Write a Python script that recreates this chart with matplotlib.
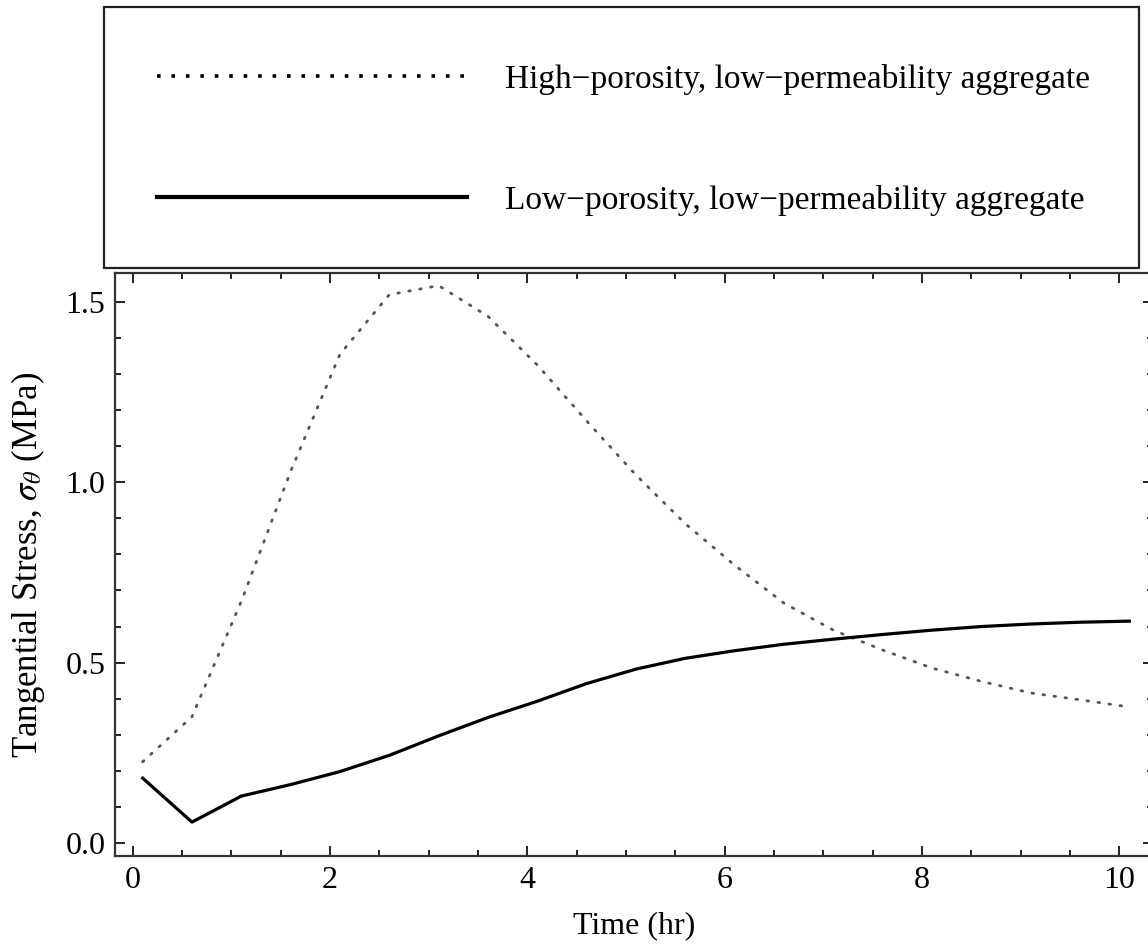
import matplotlib
matplotlib.use("Agg")
import matplotlib.pyplot as plt
from matplotlib.patches import Rectangle

# time (hr)
time_hr = [0.1, 0.6, 1.1, 1.6, 2.1, 2.6, 3.1, 3.6, 4.1, 4.6, 5.1,
           5.6, 6.1, 6.6, 7.1, 7.6, 8.1, 8.6, 9.1, 9.6, 10.1]

# tangential stress (MPa)
high_porosity = [0.225, 0.35, 0.67, 1.03, 1.355, 1.52, 1.545, 1.46, 1.325, 1.17, 1.02,
                 0.885, 0.77, 0.665, 0.59, 0.535, 0.485, 0.448, 0.416, 0.397, 0.377]
low_porosity = [0.18, 0.058, 0.13, 0.162, 0.198, 0.243, 0.297, 0.348, 0.393, 0.442, 0.482,
                0.512, 0.533, 0.551, 0.565, 0.578, 0.59, 0.6, 0.607, 0.612, 0.615]

labels = ["High\u2212porosity, low\u2212permeability aggregate",
          "Low\u2212porosity, low\u2212permeability aggregate"]

plt.rcParams['font.family'] = ['Liberation Serif', 'DejaVu Serif']
plt.rcParams['mathtext.fontset'] = 'stix'

W, H = 1148, 949
fig = plt.figure(figsize=(W / 100, H / 100), dpi=100)

ax = fig.add_axes([115 / W, 1 - 856 / H, (1153 - 115) / W, (856 - 273) / H])

l1, = ax.plot(time_hr, high_porosity, color='#555555', linewidth=2.0,
              linestyle=(0, (0.6, 3.4)), dash_capstyle='round')
l2, = ax.plot(time_hr, low_porosity, color='black', linewidth=2.3)

ax.set_xlim(-0.18, 10.34)
ax.set_ylim(-0.036, 1.58)
ax.set_xticks([0, 2, 4, 6, 8, 10])
ax.set_xticks([x * 0.5 for x in range(21)], minor=True)
ax.set_yticks([0.0, 0.5, 1.0, 1.5])
ax.set_yticks([y * 0.1 for y in range(16)], minor=True)
ax.set_yticklabels(['0.0', '0.5', '1.0', '1.5'])

ax.tick_params(which='both', direction='in', top=True, right=True,
               width=1.4, color='#222222', labelsize=23, pad=7)
ax.tick_params(which='major', length=7.5)
ax.tick_params(which='minor', length=4.5)
for s in ax.spines.values():
    s.set_linewidth(1.6)
    s.set_color('#333333')

ax.set_xlabel('Time (hr)', fontsize=23, labelpad=12)
ax.set_ylabel(r'Tangential Stress, $\sigma_\theta$ (MPa)', fontsize=25, labelpad=13)

# legend box
fig.patches.append(Rectangle((104 / W, 1 - 268 / H), (1139 - 104) / W, (268 - 7) / H,
                             transform=fig.transFigure, fill=False,
                             edgecolor='#222222', linewidth=1.6))
h1 = plt.Line2D([], [], color='black', linewidth=2.6, linestyle=(0, (1, 3)))
h2 = plt.Line2D([], [], color='black', linewidth=3)
fig.legend([h1, h2], labels, loc='upper left', bbox_to_anchor=(157 / W, 1 - 64 / H),
           frameon=False, fontsize=24, handlelength=9.3, handletextpad=1.14,
           labelspacing=2.69, borderpad=0, borderaxespad=0)

fig.savefig('out.png', dpi=100)
